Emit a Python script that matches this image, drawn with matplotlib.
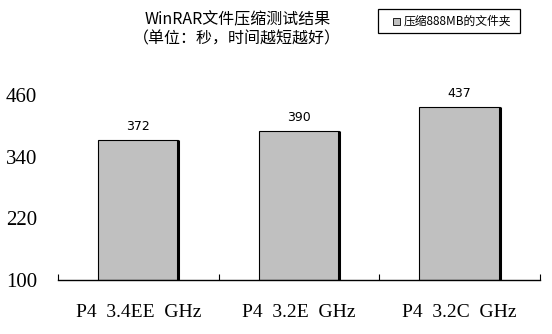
import numpy as np
import matplotlib
matplotlib.use("Agg")
import matplotlib.pyplot as plt
from matplotlib.patches import Rectangle

# data
cpus = ["P4  3.4EE  GHz", "P4  3.2E  GHz", "P4  3.2C  GHz"]
seconds = [372, 390, 437]
y_ticks = [100, 220, 340, 460]
series_name = "压缩888MB的文件夹"
title_lines = ["WinRAR文件压缩测试结果", "（单位：秒，时间越短越好）"]

cjk = ["Noto Sans CJK SC", "DejaVu Sans"]
bar_gray = "#c0c0c0"

fig = plt.figure(figsize=(5.52, 3.34), dpi=100)
ax = fig.add_axes([0.105, 0.161, 0.873, 0.555])

x = np.arange(len(cpus))
width = 0.5
ax.bar(x, [v - y_ticks[0] for v in seconds], width, bottom=y_ticks[0],
       color=bar_gray, edgecolor="black", linewidth=0.8, zorder=2)
# heavy right-hand edge like the old Excel bars
ax.vlines(x + width / 2, y_ticks[0], seconds, color="black", linewidth=2.2, zorder=3)

for xi, v in zip(x, seconds):
    ax.annotate(str(v), (xi, v), xytext=(0, 5), textcoords="offset points",
                ha="center", va="bottom", fontsize=9, family="DejaVu Sans")

ax.set_xlim(-0.5, len(cpus) - 0.5)
ax.set_ylim(y_ticks[0], y_ticks[-1])
ax.set_yticks(y_ticks)
ax.set_yticklabels([str(t) for t in y_ticks], family="Liberation Serif", fontsize=15)
ax.tick_params(axis="y", length=0, pad=15)

ax.set_xticks(x)
ax.set_xticklabels(cpus, family="Liberation Serif", fontsize=14)
ax.tick_params(axis="x", which="major", length=0, pad=17)
ax.set_xticks(np.arange(-0.5, len(cpus)), minor=True)
ax.tick_params(axis="x", which="minor", direction="in", length=4, width=0.8)

for side in ["left", "right", "top"]:
    ax.spines[side].set_visible(False)
ax.spines["bottom"].set_linewidth(1.0)

fig.text(0.43, 0.94, title_lines[0], ha="center", va="center", family=cjk, fontsize=11.5)
fig.text(0.43, 0.883, title_lines[1], ha="center", va="center", family=cjk, fontsize=11.5)

# legend box drawn in figure coordinates
fig.patches.append(Rectangle((378 / 552, 1 - 33 / 334), 142 / 552, 24 / 334,
                             transform=fig.transFigure, facecolor="white",
                             edgecolor="black", linewidth=0.9))
fig.patches.append(Rectangle((393 / 552, 1 - 25 / 334), 7 / 552, 7 / 334,
                             transform=fig.transFigure, facecolor=bar_gray,
                             edgecolor="black", linewidth=0.6))
fig.text(404 / 552, 1 - 21 / 334, series_name, ha="left", va="center",
         family=cjk, fontsize=8.5)

fig.savefig("out.png", dpi=100)
